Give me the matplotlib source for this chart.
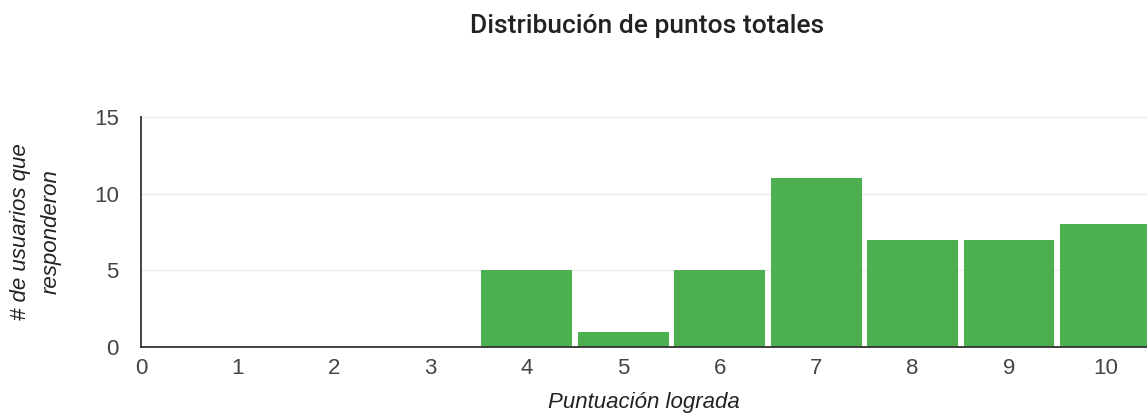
import matplotlib
matplotlib.use("Agg")
import matplotlib.pyplot as plt

scores = [0, 1, 2, 3, 4, 5, 6, 7, 8, 9, 10]
counts = [0, 0, 0, 0, 5, 1, 5, 11, 7, 7, 8]
yticks = [0, 5, 10, 15]
title = "Distribución de puntos totales"
xlabel = "Puntuación lograda"
ylabel = "# de usuarios que\nresponderon"

plt.rcParams['font.family'] = ['Liberation Sans', 'DejaVu Sans']

fig = plt.figure(figsize=(11.47, 4.13), dpi=100)
ax = fig.add_axes([141/1147, 1 - 347/413, 1 - 141/1147, (347 - 117)/413])

ax.bar(scores, counts, width=0.94, color='#4caf50', zorder=3)
ax.set_xlim(0, 10.43)
ax.set_ylim(0, 15)
ax.set_yticks(yticks)
ax.set_xticks(scores)
ax.grid(axis='y', color='#ebebeb', linewidth=1, zorder=0)
for s in ['top', 'right']:
    ax.spines[s].set_visible(False)
for s in ['left', 'bottom']:
    ax.spines[s].set_color('#333333')
    ax.spines[s].set_linewidth(1.3)
    ax.spines[s].set_zorder(4)
ax.tick_params(length=0, labelsize=16, labelcolor='#444444')
ax.tick_params(axis='y', pad=16)
ax.tick_params(axis='x', pad=8)
ax.set_xlabel(xlabel, fontsize=16, style='italic', color='#222222', labelpad=9)
ax.yaxis.set_label_coords(-(141 - 36) / (1147 - 141), 0.5)
ax.set_ylabel(ylabel, fontsize=16, style='italic', color='#222222',
              linespacing=1.6, va='center')
fig.text(647/1147, 1 - 26/413, title, ha='center', va='center', fontsize=19,
         fontweight='medium', color='#222222', family=['Roboto', 'DejaVu Sans'])

fig.savefig('out.png', dpi=100)
